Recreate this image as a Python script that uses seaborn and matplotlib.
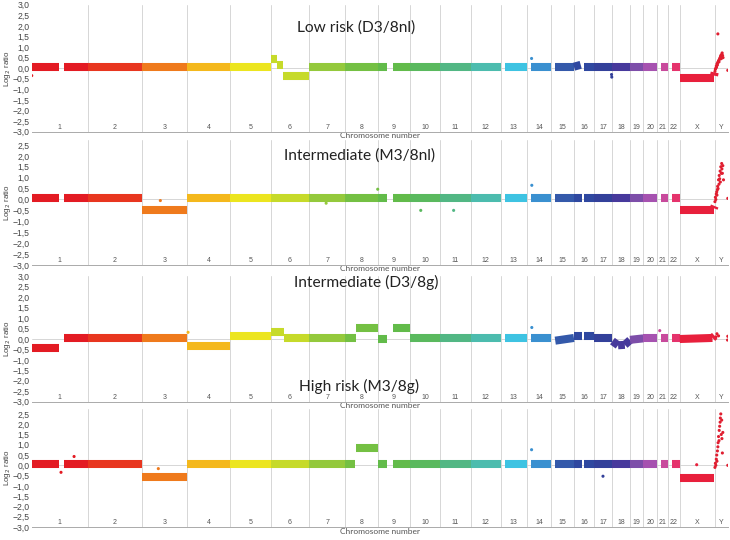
import matplotlib
matplotlib.use("Agg")
import matplotlib.pyplot as plt
import numpy as np
import pandas as pd
import seaborn as sns

# chromosome layout (Mb)
CHROMS = [str(i) for i in range(1, 23)] + ['X', 'Y']
CHROM_LEN = [249, 243, 198, 191, 181, 171, 159, 146, 141, 136, 135, 134,
             115, 107, 102, 90, 81, 78, 59, 63, 48, 51, 155, 59]
CHROM_COLORS = ['#e31b23', '#e8361f', '#ef7a1c', '#f4b81c', '#ece51f', '#c6da2a',
                '#94c93c', '#74c043', '#62bb4a', '#5ab95e', '#52b784', '#4cbcae',
                '#3ec3e2', '#3a90d0', '#3459aa', '#2f48a0', '#33409a', '#47399c',
                '#7d4ea9', '#a652b0', '#c84a9c', '#e5336c', '#e8203c', '#e01e30']
# probe coverage (gaps at centromeres / acrocentric arms)
COVERED = {'1': [(0, 121), (143, 249)], '9': [(0, 40), (68, 141)],
           '13': [(16, 115)], '14': [(19, 107)], '15': [(19, 102)],
           '16': [(0, 35), (46, 90)], '21': [(14, 48)], '22': [(16, 51)], 'Y': []}

TITLES = ['Low risk (D3/8nl)', 'Intermediate (M3/8nl)',
          'Intermediate (D3/8g)', 'High risk (M3/8g)']
BASE_LEVEL = [0.07, 0.08, 0.05, 0.07]

# segments: chrom -> [(start, end, level_start, level_end)]
LOW_RISK_SEGS = {
    '6': [(0, 28, 0.43, 0.43), (28, 55, 0.15, 0.15), (55, 171, -0.35, -0.35)],
    '16': [(0, 30, 0.07, 0.16), (46, 90, 0.07, 0.07)],
    'X': [(0, 3, 0.07, 0.07), (3, 152, -0.45, -0.45), (152, 155, -0.35, -0.2)],
}
INT_M3_SEGS = {
    '3': [(0, 198, -0.48, -0.48)],
    'X': [(0, 3, 0.08, 0.08), (3, 151, -0.5, -0.5), (151, 155, -0.4, -0.3)],
}
INT_D3_SEGS = {
    '1': [(0, 121, -0.42, -0.42), (143, 249, 0.03, 0.03)],
    '4': [(0, 191, -0.35, -0.35)],
    '5': [(0, 181, 0.12, 0.12)],
    '6': [(0, 58, 0.33, 0.33), (58, 171, 0.05, 0.05)],
    '8': [(0, 48, 0.05, 0.05), (48, 146, 0.55, 0.55)],
    '9': [(0, 40, -0.02, -0.02), (68, 141, 0.55, 0.55)],
    '15': [(19, 102, -0.08, 0.05)],
    '16': [(0, 35, 0.12, 0.12), (46, 90, 0.12, 0.12)],
    '18': [(0, 25, -0.1, -0.3), (25, 55, -0.3, -0.28), (55, 78, -0.28, -0.05)],
    '19': [(0, 59, -0.04, 0.03)],
    'X': [(0, 145, 0.0, 0.05), (145, 155, 0.05, 0.15)],
}
HIGH_RISK_SEGS = {
    '3': [(0, 198, -0.58, -0.58)],
    '8': [(0, 45, 0.05, 0.05), (47, 146, 0.82, 0.82)],
    'X': [(0, 3, 0.07, 0.07), (3, 152, -0.6, -0.6)],
}
PANEL_SEGS = [LOW_RISK_SEGS, INT_M3_SEGS, INT_D3_SEGS, HIGH_RISK_SEGS]

# single probes: (chrom, Mb, log2 ratio)
LOW_RISK_PTS = [('1', 1, -0.35), ('14', 21, 0.46), ('17', 77, -0.3), ('17', 78, -0.42),
                ('Y', 14, 1.62), ('Y', 1, -0.15), ('Y', 3, -0.05), ('Y', 5, 0.0),
                ('Y', 7, 0.1), ('Y', 8, 0.05), ('Y', 10, 0.2), ('Y', 12, 0.15),
                ('Y', 13, 0.25), ('Y', 15, 0.3), ('Y', 17, 0.35), ('Y', 19, 0.3),
                ('Y', 20, 0.4), ('Y', 22, 0.45), ('Y', 24, 0.5), ('Y', 26, 0.55),
                ('Y', 27, 0.6), ('Y', 29, 0.45), ('Y', 31, 0.65), ('Y', 33, 0.72),
                ('Y', 35, 0.6), ('Y', 37, 0.5), ('Y', 58, -0.1)]
INT_M3_PTS = [('10', 49, -0.5), ('11', 59, -0.5), ('8', 145, 0.47), ('7', 75, -0.17),
              ('14', 22, 0.65), ('3', 80, -0.05), ('Y', 1, -0.1), ('Y', 3, 0.1),
              ('Y', 5, 0.0), ('Y', 7, 0.25), ('Y', 9, 0.35), ('Y', 10, 0.2),
              ('Y', 12, 0.45), ('Y', 13, 0.6), ('Y', 15, 0.5), ('Y', 17, 0.9),
              ('Y', 19, 0.7), ('Y', 20, 1.1), ('Y', 22, 0.95), ('Y', 24, 1.3),
              ('Y', 25, 0.8), ('Y', 27, 1.5), ('Y', 29, 1.2), ('Y', 31, 1.65),
              ('Y', 32, 1.4), ('Y', 34, 1.2), ('Y', 36, 1.55), ('Y', 39, 0.9),
              ('Y', 58, 0.05)]
INT_D3_PTS = [('4', 5, 0.32), ('14', 22, 0.55), ('21', 10, 0.4), ('Y', 5, 0.1),
              ('Y', 10, 0.25), ('Y', 17, 0.15), ('Y', 58, 0.13), ('Y', 57, -0.05)]
HIGH_RISK_PTS = [('1', 189, 0.43), ('1', 131, -0.34), ('3', 71, -0.16), ('14', 21, 0.76),
                 ('17', 39, -0.53), ('X', 75, 0.03), ('Y', 1, -0.1), ('Y', 3, 0.1),
                 ('Y', 5, 0.0), ('Y', 7, 0.3), ('Y', 9, 0.5), ('Y', 10, 0.2),
                 ('Y', 12, 0.7), ('Y', 14, 0.9), ('Y', 15, 1.1), ('Y', 17, 1.4),
                 ('Y', 19, 1.2), ('Y', 20, 1.7), ('Y', 22, 1.9), ('Y', 24, 2.1),
                 ('Y', 25, 2.3), ('Y', 27, 2.5), ('Y', 29, 1.5), ('Y', 31, 2.2),
                 ('Y', 32, 1.3), ('Y', 34, 0.6), ('Y', 36, 1.6), ('Y', 58, 0.0)]
PANEL_PTS = [LOW_RISK_PTS, INT_M3_PTS, INT_D3_PTS, HIGH_RISK_PTS]

# axes placement in pixels: (top, bottom, ymax)
PANEL_BOX = [(4.7, 131.7, 3.0), (139.5, 264.9, 2.75), (276.3, 401.7, 3.0), (408.8, 527.0, 2.75)]
TITLE_POS = [(356, 28), (360, 156), (366, 282), (359, 386)]

sns.set_style('white')
plt.rcParams['font.family'] = ['Liberation Sans', 'DejaVu Sans']

offsets = dict(zip(CHROMS, np.concatenate([[0], np.cumsum(CHROM_LEN)[:-1]])))
lengths = dict(zip(CHROMS, CHROM_LEN))
palette = dict(zip(CHROMS, CHROM_COLORS))
total = sum(CHROM_LEN)
bounds = np.cumsum(CHROM_LEN)[:-1]
centers = [offsets[c] + lengths[c] / 2 for c in CHROMS]

W, H = 730, 540
fig = plt.figure(figsize=(W / 100, H / 100), dpi=100)
left, right = 31.5, 728

for i in range(4):
    top, bot, ymax = PANEL_BOX[i]
    ax = fig.add_axes([left / W, 1 - bot / H, (right - left) / W, (bot - top) / H])
    ax.set_facecolor('none')
    height_px = bot - top

    rows = []
    seg_id = 0
    for c in CHROMS:
        if c in PANEL_SEGS[i]:
            segs = PANEL_SEGS[i][c]
        else:
            segs = [(s, e, BASE_LEVEL[i], BASE_LEVEL[i])
                    for s, e in COVERED.get(c, [(0, lengths[c])])]
        for s, e, y0, y1 in segs:
            rows.append((offsets[c] + s, y0, seg_id, c))
            rows.append((offsets[c] + e, y1, seg_id, c))
            seg_id += 1
    seg_df = pd.DataFrame(rows, columns=['pos', 'ratio', 'seg', 'chrom'])
    pts_df = pd.DataFrame([(offsets[c] + p, v, c) for c, p, v in PANEL_PTS[i]],
                          columns=['pos', 'ratio', 'chrom'])

    for b in bounds:
        ax.axvline(b, color='#d6d6d6', lw=0.7, zorder=0)
    ax.axhline(0, color='#d0d0d0', lw=0.6, zorder=0)

    sns.lineplot(data=seg_df, x='pos', y='ratio', hue='chrom', units='seg',
                 estimator=None, palette=palette, linewidth=5.8, sort=False,
                 solid_capstyle='butt', legend=False, ax=ax)
    sns.scatterplot(data=pts_df, x='pos', y='ratio', hue='chrom', palette=palette,
                    s=5, linewidth=0, legend=False, ax=ax)

    ax.set_xlim(0, total)
    ax.set_ylim(-3, ymax)
    yt = np.arange(-3.0, ymax + 0.01, 0.5)
    ax.set_yticks(yt)
    ax.set_yticklabels([f'{v:.1f}'.replace('.', ',').replace('-', '\u2212') if abs(v) > 1e-9
                        else '0,0' for v in yt])
    ax.set_xticks(np.concatenate([[0], bounds, [total]]))
    ax.set_xticklabels([])
    ax.tick_params(axis='y', length=0, pad=1.5, labelsize=6.2, labelcolor='#444444')
    ax.tick_params(axis='x', length=2, width=0.6, color='#999999', direction='out')
    for side in ['top', 'right', 'left']:
        ax.spines[side].set_visible(False)
    ax.spines['bottom'].set_color('#aaaaaa')
    ax.spines['bottom'].set_linewidth(0.7)

    for c, xc in zip(CHROMS, centers):
        ax.text(xc, -2.78, c, ha='center', va='center', fontsize=5, color='#555555')

    ax.set_ylabel(r'Log$_2$ ratio', fontsize=5.8, color='#444444')
    ax.yaxis.set_label_coords(-0.027, 0.5)
    ax.set_xlabel('Chromosome number', fontsize=6.0, color='#555555',
                  family=['Lato', 'DejaVu Sans'])
    ax.xaxis.set_label_coords(0.5, -0.5 / height_px)

    tx, ty = TITLE_POS[i]
    fig.text(tx / W, 1 - ty / H, TITLES[i], ha='center', va='center',
             fontsize=11.2, color='#222222', family=['Lato', 'DejaVu Sans'])

fig.savefig('out.png', dpi=100)
